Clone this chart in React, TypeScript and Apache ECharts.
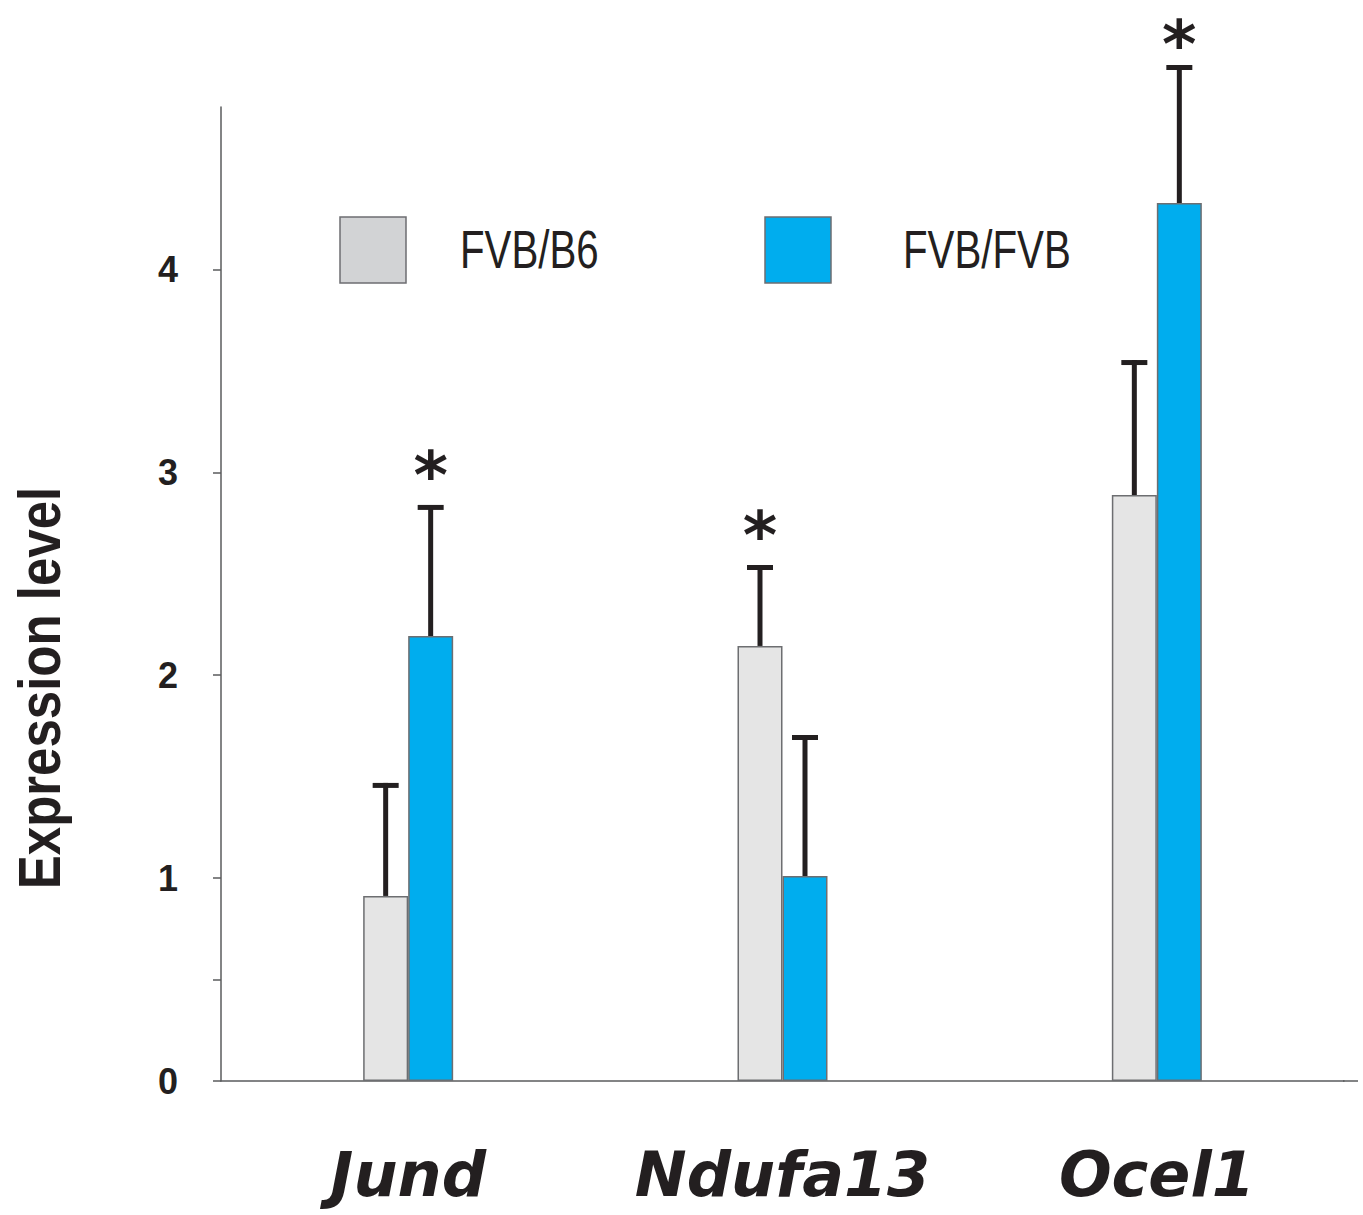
import React, { useEffect, useRef } from "react";
import * as echarts from "echarts";

const genes = ["Jund", "Ndufa13", "Ocel1"];
const seriesNames = ["FVB/B6", "FVB/FVB"];
const b6Values = [0.912, 2.144, 2.888];
const b6Errors = [0.557, 0.399, 0.665];
const b6Stars = [0, 1, 0];
const fvbValues = [2.193, 1.01, 4.327];
const fvbErrors = [0.646, 0.695, 0.68];
const fvbStars = [1, 0, 1];
const yTickValues = [0, 0.5, 1, 2, 3, 4];
const yLabelValues = [0, 1, 2, 3, 4];

const GRAY = "#e5e5e5";
const LEGEND_GRAY = "#d2d3d5";
const BLUE = "#00adee";
const BORDER = "#6d6e71";
const INK = "#231f20";
const AXIS = "#5a5b5d";
const BAR_W = 45;

function errorSeries(values: number[], errors: number[], stars: number[], offset: number) {
  return {
    type: "custom",
    clip: false,
    silent: true,
    z: 5,
    data: values.map((v, i) => [i, v, errors[i], stars[i]]),
    renderItem: (params: any, api: any) => {
      const ci = api.value(0);
      const v = api.value(1);
      const e = api.value(2);
      const s = api.value(3);
      const base = api.coord([ci, v]);
      const top = api.coord([ci, v + e]);
      const x = base[0] + offset;
      const children: any[] = [
        {
          type: "line",
          shape: { x1: x, y1: base[1], x2: x, y2: top[1] },
          style: { stroke: INK, lineWidth: 5 },
        },
        {
          type: "line",
          shape: { x1: x - 13, y1: top[1] + 2.5, x2: x + 13, y2: top[1] + 2.5 },
          style: { stroke: INK, lineWidth: 5 },
        },
      ];
      if (s) {
        children.push({
          type: "text",
          x: x,
          y: Math.max(44, top[1] - 29),
          style: {
            text: "*",
            fill: INK,
            font: "bold 66px 'DejaVu Sans', sans-serif",
            align: "center",
            verticalAlign: "middle",
          },
        });
      }
      return { type: "group", children };
    },
  };
}

function legendItem(name: string, color: string, left: number, textX: number) {
  return [
    {
      type: "rect",
      shape: { x: left, y: 217, width: 66, height: 66 },
      style: { fill: color, stroke: BORDER, lineWidth: 1.5 },
    },
    {
      type: "text",
      x: textX,
      y: 249,
      scaleX: 0.76,
      style: {
        text: name,
        font: "normal 53px 'Liberation Sans', Arial, sans-serif",
        fill: INK,
        align: "left",
        verticalAlign: "middle",
      },
    },
  ];
}

const GRID_LEFT = 221;
const GRID_RIGHT = 19;
const GRID_TOP = 107;
const GRID_H = 974;

export default function App() {
  const ref = useRef<HTMLDivElement>(null);
  useEffect(() => {
    if (!ref.current) return;
    const chart = echarts.init(ref.current, null, { renderer: "svg" });
    const axisBottom = GRID_TOP + GRID_H;
    chart.setOption({
      animation: false,
      backgroundColor: "#ffffff",
      grid: { left: GRID_LEFT, right: GRID_RIGHT, top: GRID_TOP, height: GRID_H, containLabel: false },
      xAxis: {
        type: "category",
        data: genes,
        axisLine: { show: true, lineStyle: { color: AXIS, width: 1.5 } },
        axisTick: { show: false },
        axisLabel: {
          interval: 0,
          margin: 62,
          fontFamily: "'DejaVu Sans', sans-serif",
          fontWeight: "bold",
          fontStyle: "italic",
          fontSize: 62,
          color: INK,
        },
      },
      yAxis: {
        type: "value",
        min: 0,
        max: 4.8,
        splitLine: { show: false },
        axisLine: { show: true, lineStyle: { color: AXIS, width: 1.5 } },
        axisTick: {
          show: true,
          length: 8,
          customValues: yTickValues,
          lineStyle: { color: AXIS, width: 1.5 },
        },
        axisLabel: {
          customValues: yLabelValues,
          margin: 43,
          fontFamily: "'Liberation Sans', Arial, sans-serif",
          fontWeight: "bold",
          fontSize: 36,
          color: INK,
        },
      },
      graphic: [
        {
          type: "line",
          shape: { x1: 1363 - GRID_RIGHT - 1, y1: axisBottom, x2: 1358, y2: axisBottom },
          style: { stroke: AXIS, lineWidth: 1.5 },
          z: 1,
        },
        {
          type: "text",
          x: 40,
          y: 688,
          rotation: Math.PI / 2,
          scaleX: 0.85,
          style: {
            text: "Expression level",
            font: "bold 60px 'Liberation Sans', Arial, sans-serif",
            fill: INK,
            align: "center",
            verticalAlign: "middle",
          },
        },
        ...legendItem(seriesNames[0], LEGEND_GRAY, 340, 460),
        ...legendItem(seriesNames[1], BLUE, 765, 903),
      ],
      series: [
        {
          name: seriesNames[0],
          type: "bar",
          barWidth: BAR_W,
          barGap: "0%",
          data: b6Values,
          itemStyle: { color: GRAY, borderColor: BORDER, borderWidth: 1.5 },
        },
        {
          name: seriesNames[1],
          type: "bar",
          barWidth: BAR_W,
          barGap: "0%",
          data: fvbValues,
          itemStyle: { color: BLUE, borderColor: BORDER, borderWidth: 1.5 },
        },
        errorSeries(b6Values, b6Errors, b6Stars, -BAR_W / 2),
        errorSeries(fvbValues, fvbErrors, fvbStars, BAR_W / 2),
      ],
    });
    return () => chart.dispose();
  }, []);
  return (
    <div
      ref={ref}
      style={{ position: "fixed", left: 0, top: 0, width: 1363, height: 1215 }}
    />
  );
}
